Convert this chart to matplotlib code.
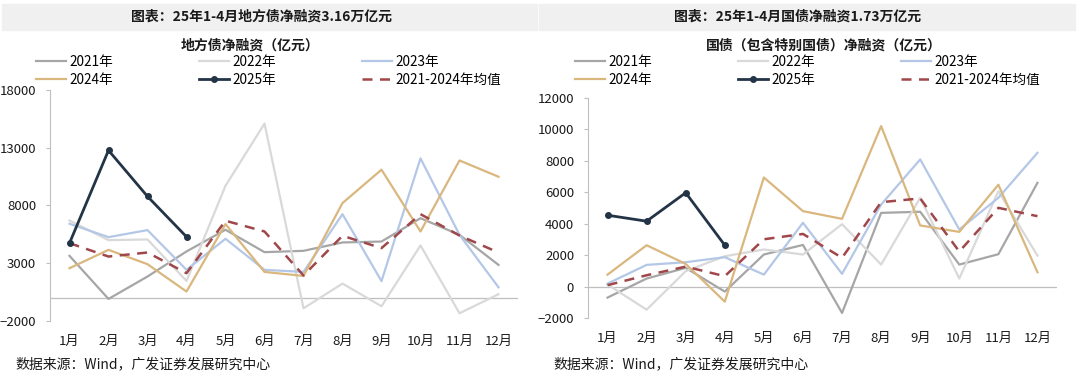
import matplotlib
matplotlib.use('Agg')
import matplotlib.pyplot as plt
from matplotlib.patches import Rectangle

plt.rcParams['font.family'] = ['Noto Sans CJK SC', 'DejaVu Sans']

months = ['1月', '2月', '3月', '4月', '5月', '6月', '7月', '8月', '9月', '10月', '11月', '12月']
series_names = ['2021年', '2022年', '2023年', '2024年', '2025年', '2021-2024年均值']

# 地方债净融资（亿元）
local_2021 = [3640, -90, 1850, 4020, 5900, 3960, 4075, 4800, 4880, 6900, 5460, 2860]
local_2022 = [6700, 5000, 5060, 1470, 9710, 15090, -900, 1240, -720, 4540, -1330, 320]
local_2023 = [6420, 5260, 5870, 2430, 5120, 2430, 2250, 7250, 1450, 12080, 5460, 920]
local_2024 = [2570, 4160, 2920, 550, 6390, 2250, 1900, 8210, 11100, 5750, 11900, 10490]
local_2025 = [4740, 12775, 8786, 5289]
local_avg = [4740, 3580, 3930, 2140, 6680, 5750, 1940, 5380, 4310, 7250, 5400, 3930]

# 国债（包含特别国债）净融资（亿元）
gov_2021 = [-700, 510, 1190, -320, 2040, 2650, -1680, 4690, 4760, 1400, 2060, 6600]
gov_2022 = [130, -1470, 980, 1930, 2360, 2040, 3970, 1400, 5650, 510, 6070, 1970]
gov_2023 = [190, 1380, 1550, 1870, 760, 4060, 810, 5220, 8090, 3630, 5650, 8510]
gov_2024 = [760, 2630, 1440, -960, 6940, 4800, 4310, 10210, 3890, 3480, 6480, 910]
gov_2025 = [4540, 4160, 5970, 2630]
gov_avg = [90, 720, 1270, 660, 3010, 3350, 1830, 5370, 5610, 2230, 5010, 4480]

colors = ['#a6a6a6', '#d9d9d9', '#b4c7e7', '#d9b77e', '#243447', '#a0474a']

W, H = 1080, 382
fig = plt.figure(figsize=(W / 100, H / 100), dpi=100)


def px(x0, y0, x1, y1):
    return [x0 / W, 1 - y1 / H, (x1 - x0) / W, (y1 - y0) / H]


def panel(ax_rect, bar, title, title_x, subtitle, sub_x, leg_x, data, yticks, ylim):
    fig.patches.append(Rectangle((bar[0] / W, 1 - 30 / H), (bar[1] - bar[0]) / W, 26 / H,
                                 transform=fig.transFigure, color='#f0f0f0', zorder=0))
    fig.text(title_x / W, 1 - 17 / H, title, ha='center', va='center',
             fontsize=10, fontweight='bold', color='#1a1a1a')
    fig.text(sub_x / W, 1 - 46 / H, subtitle, ha='center', va='center',
             fontsize=10, fontweight='bold', color='#1a1a1a')

    ax = fig.add_axes(px(*ax_rect))
    x = list(range(12))
    handles = []
    for i, vals in enumerate(data):
        xs = x[:len(vals)]
        if i == 4:
            h, = ax.plot(xs, vals, color=colors[i], lw=2, marker='o', ms=4, zorder=5)
        elif i == 5:
            h, = ax.plot(xs, vals, color=colors[i], lw=1.8, ls=(0, (4, 3)), zorder=4)
        else:
            h, = ax.plot(xs, vals, color=colors[i], lw=1.6, zorder=2 + (i == 3))
        handles.append(h)
    ax.axhline(0, color='#bfbfbf', lw=0.9, zorder=1)
    ax.set_xlim(-0.5, 11.5)
    ax.set_ylim(*ylim)
    ax.set_yticks(yticks)
    ax.set_xticks(x)
    ax.set_xticklabels(months)
    for s in ['top', 'right', 'bottom']:
        ax.spines[s].set_visible(False)
    ax.spines['left'].set_color('#bfbfbf')
    ax.tick_params(axis='x', length=0, pad=10, labelsize=9.5, colors='#1a1a1a')
    ax.tick_params(axis='y', length=3, color='#bfbfbf', labelsize=9.5, labelcolor='#1a1a1a', pad=7)

    order = [0, 3, 1, 4, 2, 5]
    fig.legend([handles[k] for k in order], [series_names[k] for k in order],
               ncol=3, loc='upper left', bbox_to_anchor=(leg_x / W, 1 - 55 / H),
               frameon=False, fontsize=9.8, handlelength=2.2, handletextpad=0.25,
               columnspacing=6.3, labelspacing=0.3, borderpad=0, borderaxespad=0)
    return ax


panel((50, 90, 518, 321), (2, 537), '图表：25年1-4月地方债净融资3.16万亿元', 261,
      '地方债净融资（亿元）', 250, 36,
      [local_2021, local_2022, local_2023, local_2024, local_2025, local_avg],
      [-2000, 3000, 8000, 13000, 18000], (-2000, 18000))
panel((588, 98, 1057, 318), (539, 1075), '图表：25年1-4月国债净融资1.73万亿元', 798,
      '国债（包含特别国债）净融资（亿元）', 824, 575,
      [gov_2021, gov_2022, gov_2023, gov_2024, gov_2025, gov_avg],
      list(range(-2000, 12001, 2000)), (-2000, 12000))

fig.text(15 / W, 1 - 364 / H, '数据来源：Wind，广发证券发展研究中心', ha='left', va='center',
         fontsize=10, color='#1a1a1a')
fig.text(553 / W, 1 - 364 / H, '数据来源：Wind，广发证券发展研究中心', ha='left', va='center',
         fontsize=10, color='#1a1a1a')

fig.savefig('out.png', dpi=100)
